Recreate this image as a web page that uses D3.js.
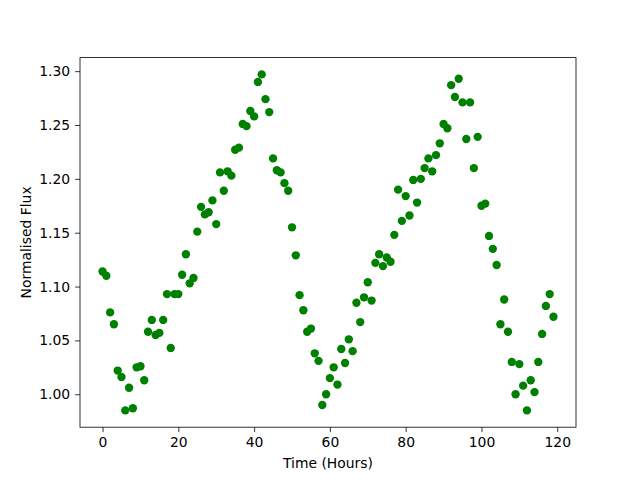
<!DOCTYPE html>
<html>
<head>
<meta charset="utf-8">
<script src="https://cdn.jsdelivr.net/npm/d3@7"></script>
<style>
  body { margin: 0; background: #fff; }
  text { font-family: "DejaVu Sans", sans-serif; }
</style>
</head>
<body>
<div id="chart"></div>
<script>
// flux readings, one per hour
const hours = d3.range(0, 120);
const flux = [
  1.114, 1.110, 1.076, 1.065, 1.022, 1.016, 0.985, 1.006, 0.987, 1.025,
  1.026, 1.013, 1.058, 1.069, 1.055, 1.057, 1.069, 1.093, 1.043, 1.093,
  1.093, 1.111, 1.130, 1.103, 1.108, 1.151, 1.174, 1.167, 1.169, 1.180,
  1.158, 1.206, 1.189, 1.207, 1.203, 1.227, 1.229, 1.251, 1.249, 1.263,
  1.258, 1.290, 1.297, 1.274, 1.262, 1.219, 1.208, 1.206, 1.196, 1.189,
  1.155, 1.129, 1.092, 1.078, 1.058, 1.061, 1.038, 1.031, 0.990, 1.000,
  1.015, 1.025, 1.009, 1.042, 1.029, 1.051, 1.040, 1.085, 1.067, 1.090,
  1.104, 1.087, 1.122, 1.130, 1.119, 1.127, 1.123, 1.148, 1.190, 1.161,
  1.184, 1.166, 1.199, 1.178, 1.200, 1.210, 1.219, 1.207, 1.222, 1.233,
  1.251, 1.247, 1.287, 1.276, 1.293, 1.271, 1.237, 1.271, 1.210, 1.239,
  1.175, 1.177, 1.147, 1.135, 1.120, 1.065, 1.088, 1.058, 1.030, 1.000,
  1.028, 1.008, 0.985, 1.013, 1.002, 1.030, 1.056, 1.082, 1.093, 1.072
];
const xTicks = [0, 20, 40, 60, 80, 100, 120];
const yTicks = [1.00, 1.05, 1.10, 1.15, 1.20, 1.25, 1.30];

const WIDTH = 640, HEIGHT = 480;
const MARGINS = {left: 80, right: 64, top: 57.6, bottom: 52.8};
const plotW = WIDTH - MARGINS.left - MARGINS.right;
const plotH = HEIGHT - MARGINS.top - MARGINS.bottom;

const svg = d3.select("#chart").append("svg")
    .attr("width", WIDTH)
    .attr("height", HEIGHT);

// matplotlib style 5% padding
const xMin = d3.min(hours), xMax = d3.max(hours);
const yMin = d3.min(flux), yMax = d3.max(flux);
const xPad = (xMax - xMin) * 0.05, yPad = (yMax - yMin) * 0.05;

const x = d3.scaleLinear()
    .domain([xMin - xPad, xMax + xPad])
    .range([MARGINS.left, MARGINS.left + plotW]);
const y = d3.scaleLinear()
    .domain([yMin - yPad, yMax + yPad])
    .range([MARGINS.top + plotH, MARGINS.top]);

const xAxis = d3.axisBottom(x).tickValues(xTicks).tickSize(4.9).tickPadding(4.9)
    .tickFormat(d3.format("d"));
const yAxis = d3.axisLeft(y).tickValues(yTicks).tickSize(4.9).tickPadding(4.9)
    .tickFormat(d3.format(".2f"));

const gx = svg.append("g")
    .attr("transform", "translate(0," + (MARGINS.top + plotH) + ")")
    .call(xAxis);
const gy = svg.append("g")
    .attr("transform", "translate(" + MARGINS.left + ",0)")
    .call(yAxis);

[gx, gy].forEach(g => {
  g.select(".domain").remove();
  g.selectAll(".tick line").attr("stroke", "#000").attr("stroke-width", 0.8);
  g.selectAll(".tick text").attr("fill", "#000")
      .attr("font-size", 13.9)
      .attr("font-family", "DejaVu Sans, sans-serif");
});

// points
svg.append("g")
  .selectAll("circle")
  .data(hours)
  .enter()
  .append("circle")
    .attr("cx", (d) => x(d))
    .attr("cy", (d, i) => y(flux[i]))
    .attr("r", 4.17)
    .attr("fill", "#008000");

// frame
svg.append("rect")
    .attr("x", MARGINS.left)
    .attr("y", MARGINS.top)
    .attr("width", plotW)
    .attr("height", plotH)
    .attr("fill", "none")
    .attr("stroke", "#000")
    .attr("stroke-width", 0.8);

// axis titles
svg.append("text")
    .attr("x", MARGINS.left + plotW / 2)
    .attr("y", 468)
    .attr("text-anchor", "middle")
    .attr("font-size", 13.9)
    .text("Time (Hours)");

svg.append("text")
    .attr("transform", "translate(31," + (MARGINS.top + plotH / 2) + ") rotate(-90)")
    .attr("text-anchor", "middle")
    .attr("font-size", 13.9)
    .text("Normalised Flux");
</script>
</body>
</html>
